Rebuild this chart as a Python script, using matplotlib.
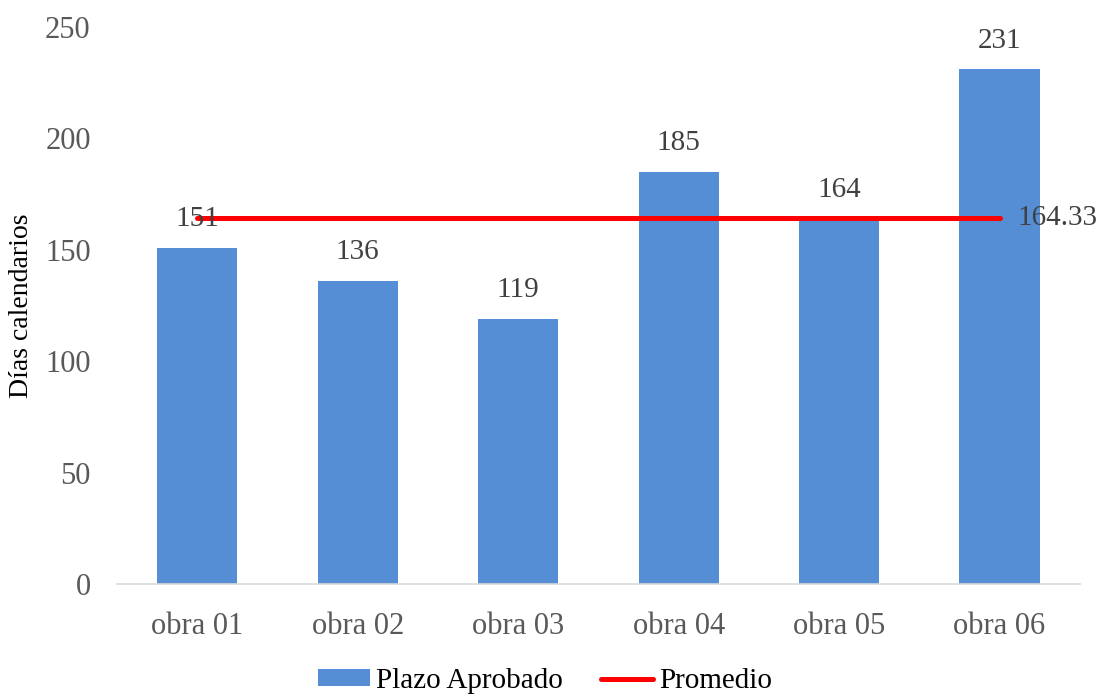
import matplotlib
matplotlib.use("Agg")
import matplotlib.pyplot as plt
import numpy as np

# data
obras = ["obra 01", "obra 02", "obra 03", "obra 04", "obra 05", "obra 06"]
plazo = [151, 136, 119, 185, 164, 231]
promedio = [164.33] * 6

plt.rcParams['font.family'] = ['Liberation Serif', 'DejaVu Serif']

fig = plt.figure(figsize=(10.99, 6.95), dpi=100)
ax = fig.add_axes([0.1065, 0.1597, 0.876, 0.8015])

x = np.arange(len(obras))
bars = ax.bar(x, plazo, width=0.5, color="#558ED5", label="Plazo Aprobado", zorder=2)
line, = ax.plot(x, promedio, color="#FF0000", lw=3.6, solid_capstyle="round",
                label="Promedio", zorder=3)

# data labels
for xi, v in zip(x, plazo):
    ax.text(xi, v + 7, str(v), ha="center", va="bottom", fontsize=21, color="#404040", zorder=4)
ax.text(x[-1] + 0.11, promedio[-1], "164.33", ha="left", va="center",
        fontsize=21, color="#404040", zorder=4)

ax.set_xlim(-0.5, 5.5)
ax.set_ylim(0, 250)
ax.set_yticks([0, 50, 100, 150, 200, 250])
ax.set_xticks(x)
ax.set_xticklabels(obras)
ax.tick_params(axis="both", length=0, labelsize=22, labelcolor="#595959")
ax.tick_params(axis="x", pad=20)
ax.tick_params(axis="y", pad=19)

for s in ["top", "right", "left"]:
    ax.spines[s].set_visible(False)
ax.spines["bottom"].set_color("#D9D9D9")
ax.spines["bottom"].set_linewidth(1.2)

ax.set_ylabel("Días calendarios", fontsize=20, color="black", va="center")
ax.yaxis.set_label_coords(-0.099, 0.5)

leg = fig.legend([bars, line], ["Plazo Aprobado", "Promedio"], loc="center",
                 bbox_to_anchor=(0.496, 0.02), ncol=2, frameon=False,
                 fontsize=21, handlelength=1.8, handleheight=0.5, columnspacing=1.3,
                 handletextpad=0.2)

fig.savefig("out.png", dpi=100)
